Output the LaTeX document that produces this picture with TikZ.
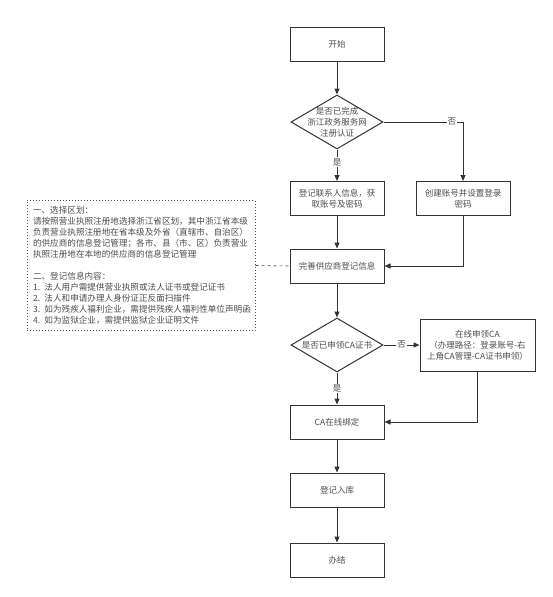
\documentclass[tikz,border=0pt]{standalone}
\usepackage{fontspec}
\setmainfont{Noto Sans CJK SC}
\usetikzlibrary{arrows.meta,shapes.geometric}

\begin{document}
\begin{tikzpicture}[x=1pt,y=-1pt,line width=1pt,
  box/.style={draw=black!80,minimum width=94pt,minimum height=34pt,align=center,
    text=black!70,font=\fontsize{8.5}{11}\selectfont},
  decide/.style={draw=black!80,diamond,minimum width=92pt,minimum height=54pt,inner sep=0pt},
  flow/.style={draw=black!80,-{Triangle[length=6pt,width=5pt]}},
  lbl/.style={fill=white,inner sep=1pt,text=black!70,font=\fontsize{8.5}{11}\selectfont},
  memo/.style={draw=black!70,dotted,text width=216pt,inner sep=6pt,minimum height=130pt,
    align=left,text=black!70,font=\fontsize{8.6}{11}\selectfont}]
\useasboundingbox (0,0) rectangle (553,597);

\node[box] (start) at (337,44.5) {开始};
\node[decide,label={[lbl,fill=none,align=center]center:是否已完成\\浙江政务服务网\\注册认证}] (q1) at (337,122) {};
\node[box] (reg) at (337,198.5) {登记联系人信息，获\\取账号及密码};
\node[box] (create) at (463,198.5) {创建账号并设置登录\\密码};
\node[box] (perfect) at (337,266) {完善供应商登记信息};
\node[decide,label={[lbl,fill=none]center:是否已申领CA证书}] (q2) at (337,345) {};
\node[box,minimum width=115pt,minimum height=52pt] (apply) at (477.5,345)
  {在线申领CA\\（办理路径：登录账号-右\\上角CA管理-CA证书申领）};
\node[box] (bind) at (337,422) {CA在线绑定};
\node[box] (store) at (337,490) {登记入库};
\node[box] (finish) at (337,560) {办结};

\node[memo] (note) at (141,265.5) {一、选择区划：\\
请按照营业执照注册地选择浙江省区划，其中浙江省本级\\
负责营业执照注册地在省本级及外省（直辖市、自治区）\\
的供应商的信息登记管理；各市、县（市、区）负责营业\\
执照注册地在本地的供应商的信息登记管理\\
~\\
二、登记信息内容：\\
1. 法人用户需提供营业执照或法人证书或登记证书\\
2. 法人和申请办理人身份证正反面扫描件\\
3. 如为残疾人福利企业，需提供残疾人福利性单位声明函\\
4. 如为监狱企业，需提供监狱企业证明文件};

\draw[flow] (start) -- (q1);
\draw[flow] (q1) -- node[lbl,pos=0.4] {是} (reg);
\draw[flow] (q1.east) -| node[lbl,pos=0.43] {否} (create.north);
\draw[flow] (reg) -- (perfect);
\draw[flow] (create.south) |- (perfect.east);
\draw[flow] (perfect) -- (q2);
\draw[flow] (q2) -- node[lbl] {否} (apply);
\draw[flow] (q2) -- node[lbl] {是} (bind);
\draw[flow] (apply.south) |- (bind.east);
\draw[flow] (bind) -- (store);
\draw[flow] (store) -- (finish);
\draw[black!70,dashed,line width=0.6pt] (note.east) -- (perfect.west);
\end{tikzpicture}
\end{document}
